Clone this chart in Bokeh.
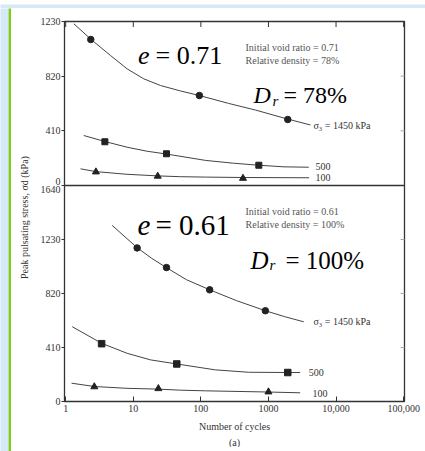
import math
from bokeh.plotting import figure
from bokeh.models import Range1d, FixedTicker, Label, Title
from bokeh.layouts import row, column
from bokeh.embed import file_html
from bokeh.resources import INLINE

# ---------------- data ----------------
x_ticks = [1, 10, 100, 1000, 10000, 100000]
x_tick_labels = ["1", "10", "100", "1000", "10,000", "100,000"]
top_y_ticks = [0, 410, 820, 1230]
top_y_tick_labels = ["0", "410", "820", "1230"]
bot_y_ticks = [0, 410, 820, 1230, 1640]
bot_y_tick_labels = ["0", "410", "820", "1230", "1640"]

# upper panel: e = 0.71, Dr = 78 %
top_circle_n = [2.35, 95, 1930]
top_circle_v = [1095, 675, 495]
top_square_n = [3.8, 31, 720]
top_square_v = [328, 238, 152]
top_tri_n = [2.8, 23, 420]
top_tri_v = [102, 70, 54]
top_curve1450_n = [1.32, 2.38, 4.6, 8.1, 14.3, 25.3, 50, 95, 256, 642, 1930, 4180]
top_curve1450_v = [1213, 1095, 975, 875, 800, 750, 709, 675, 616, 566, 498, 454]
top_curve500_n = [1.85, 3.8, 8.1, 16, 31, 118, 305, 720, 1700, 3950]
top_curve500_v = [375, 330, 287, 257, 236, 188, 167, 152, 140, 137]
top_curve100_n = [1.66, 2.8, 8.1, 23, 50, 118, 420, 4000]
top_curve100_v = [125, 104, 84, 72, 66, 63, 60, 58]

# lower panel: e = 0.61, Dr = 100 %
bot_circle_n = [11.4, 31, 135, 900]
bot_circle_v = [1166, 1017, 848, 689]
bot_square_n = [3.4, 44, 1930]
bot_square_v = [439, 285, 220]
bot_tri_n = [2.65, 23.5, 1000]
bot_tri_v = [112, 98, 73]
bot_curve1450_n = [4.87, 11.4, 18.6, 30.8, 61, 135, 336, 903, 1714, 3330]
bot_curve1450_v = [1337, 1168, 1088, 1017, 925, 848, 766, 689, 645, 605]
bot_curve500_n = [1.25, 3.4, 8.1, 18, 44, 164, 510, 1930, 2950]
bot_curve500_v = [568, 442, 366, 316, 285, 240, 222, 220, 220]
bot_curve100_n = [1.22, 2.65, 8.1, 23.5, 50, 118, 1000, 2950]
bot_curve100_v = [139, 114, 100, 94, 86, 81, 72, 66]

SERIF = "Liberation Serif"
INK = "#222222"
LINE = "#444444"
GREEN = "#7ccc22"
BLUE = "#d5e9f8"

X_START, X_END = 0.96, 1.03e5
x_range = Range1d(X_START, X_END)


def make_fig(height, y_end, mb_top, mb_bottom, x_loc):
    p = figure(width=392, height=height, x_axis_type="log", x_range=x_range,
               y_range=Range1d(0, y_end), x_axis_location=x_loc,
               output_backend="svg", toolbar_location=None,
               min_border_left=31, min_border_right=21,
               min_border_top=mb_top, min_border_bottom=mb_bottom)
    p.grid.visible = False
    p.outline_line_color = "#333333"
    p.outline_line_width = 1.3
    p.background_fill_color = "white"
    p.border_fill_alpha = 0
    return p


def style_y(ax, ticks, labels):
    ax.ticker = FixedTicker(ticks=ticks)
    ax.major_label_overrides = {t: l for t, l in zip(ticks, labels)}
    ax.axis_line_color = None
    ax.major_tick_in = 0
    ax.major_tick_out = 3
    ax.major_tick_line_color = "#333333"
    ax.minor_tick_line_color = None
    ax.major_label_standoff = 1
    ax.major_label_text_font = SERIF
    ax.major_label_text_font_size = "10px"
    ax.major_label_text_color = "#333333"


def edge_ticks(p, y_top, right_ticks):
    # short inward tick marks on the top edge (decades) and on the right edge
    p.scatter(x_ticks, [y_top] * len(x_ticks), marker="dash", angle=math.pi / 2,
              size=11, line_color="#333333", line_width=1)
    p.scatter([X_END] * len(right_ticks), right_ticks, marker="dash",
              size=8, line_color="#aaaaaa", line_width=1)


def lab(p, x, y, text, size, style="normal", color="black", baseline="alphabetic", align="left"):
    p.add_layout(Label(x=x, y=y, text=text, text_font=SERIF, text_font_size=f"{size}px",
                       text_font_style=style, text_color=color, text_baseline=baseline,
                       text_align=align))


def draw_series(p, cn, cv, sn, sv, marker, msize):
    p.line(cn, cv, line_color=LINE, line_width=1)
    p.scatter(sn, sv, marker=marker, size=msize, fill_color=INK, line_color=INK)


# ---------------- upper panel ----------------
PT_H = 175
pt = make_fig(PT_H, 1230, 10, 1, None)
pt.styles = {"z-index": "2"}
style_y(pt.yaxis[0], top_y_ticks[1:], top_y_tick_labels[1:])
edge_ticks(pt, top_y_ticks[-1], top_y_ticks[1:3])
draw_series(pt, top_curve1450_n, top_curve1450_v, top_circle_n, top_circle_v, "circle", 6.5)
draw_series(pt, top_curve500_n, top_curve500_v, top_square_n, top_square_v, "square", 6)
draw_series(pt, top_curve100_n, top_curve100_v, top_tri_n, top_tri_v, "triangle", 7)

lab(pt, 11.7, 975, "e", 26, "italic")
lab(pt, 21.3, 975, "= 0.71", 26)
lab(pt, 458, 1035, "Initial void ratio = 0.71", 10, color="#555555", baseline="middle")
lab(pt, 458, 937, "Relative density = 78%", 10, color="#555555", baseline="middle")
lab(pt, 600, 682, "D", 24, "italic")
lab(pt, 1146, 637, "r", 15, "italic")
lab(pt, 1667, 682, "= 78%", 24)
lab(pt, 4630, 450, "\u03c3\u2083 = 1450 kPa", 10, color="#333333", baseline="middle")
lab(pt, 4960, 142, "500", 10, color="#333333", baseline="middle")
lab(pt, 4960, 60, "100", 10, color="#333333", baseline="middle")

# ---------------- lower panel ----------------
OVERLAP = 14
PB_H = 13 + 217 + 45
pb = make_fig(PB_H, 1640, 13, 45, "below")
pb.margin = (-OVERLAP, 0, 0, 0)
ax = pb.xaxis[0]
ax.ticker = FixedTicker(ticks=x_ticks)
ax.major_label_overrides = {t: l for t, l in zip(x_ticks, x_tick_labels)}
ax.axis_line_color = None
ax.major_tick_in = 5
ax.major_tick_out = 0
ax.major_tick_line_color = "#333333"
ax.minor_tick_line_color = None
ax.major_label_text_font = SERIF
ax.major_label_text_font_size = "10px"
ax.major_label_text_color = "#333333"
ax.major_label_standoff = 3
ax.axis_label = "Number of cycles"
ax.axis_label_text_font = SERIF
ax.axis_label_text_font_size = "10px"
ax.axis_label_text_font_style = "normal"
ax.axis_label_text_color = "#333333"
ax.axis_label_standoff = 6
pb.add_layout(Title(text="(a)", align="center", text_font=SERIF, text_font_size="10px",
                    text_font_style="normal", text_color="#333333", standoff=0), "below")
style_y(pb.yaxis[0], bot_y_ticks, bot_y_tick_labels)
# shared border: the upper panel's "0" sits just above the lower panel's "1640"
pb.yaxis[0].major_label_overrides = {
    **pb.yaxis[0].major_label_overrides,
    bot_y_ticks[-1]: top_y_tick_labels[0] + "\n" + bot_y_tick_labels[-1],
}
pb.yaxis[0].major_label_text_line_height = 0.75
pb.scatter([X_END] * 3, bot_y_ticks[1:4], marker="dash", size=8,
           line_color="#aaaaaa", line_width=1)
draw_series(pb, bot_curve1450_n, bot_curve1450_v, bot_circle_n, bot_circle_v, "circle", 6.5)
draw_series(pb, bot_curve500_n, bot_curve500_v, bot_square_n, bot_square_v, "square", 6.5)
draw_series(pb, bot_curve100_n, bot_curve100_v, bot_tri_n, bot_tri_v, "triangle", 7)

lab(pb, 11.5, 1337, "e", 29, "italic")
lab(pb, 21.3, 1337, "= 0.61", 29)
lab(pb, 458, 1443, "Initial void ratio = 0.61", 10, color="#555555", baseline="middle")
lab(pb, 458, 1345, "Relative density = 100%", 10, color="#555555", baseline="middle")
lab(pb, 542, 1072, "D", 25, "italic")
lab(pb, 1035, 1034, "r", 15, "italic")
lab(pb, 1786, 1072, "= 100%", 25)
lab(pb, 4630, 605, "\u03c3\u2083 = 1450 kPa", 10, color="#333333", baseline="middle")
lab(pb, 3945, 219, "500", 10, color="#333333", baseline="middle")
lab(pb, 4470, 64, "100", 10, color="#333333", baseline="middle")

# ---------------- shared y-axis title ----------------
PL_H = PT_H + PB_H - OVERLAP
pl = figure(width=22, height=PL_H, x_range=Range1d(0, 22), y_range=Range1d(PL_H, 0),
            x_axis_location=None, y_axis_location=None, output_backend="svg",
            toolbar_location=None, min_border=0)
pl.min_border_left = pl.min_border_right = pl.min_border_top = pl.min_border_bottom = 0
pl.grid.visible = False
pl.outline_line_color = None
pl.border_fill_alpha = 0
pl.background_fill_alpha = 0
pl.add_layout(Label(x=13, y=206, text="Peak pulsating stress, \u03c3d (kPa)", angle=math.pi / 2,
                    text_font=SERIF, text_font_size="10px", text_color="#333333",
                    text_align="center", text_baseline="middle"))


def strip(w, h, color):
    b = figure(width=w, height=h, x_axis_location=None, y_axis_location=None,
               output_backend="svg", toolbar_location=None, min_border=0)
    b.min_border_left = b.min_border_right = b.min_border_top = b.min_border_bottom = 0
    b.grid.visible = False
    b.outline_line_color = None
    b.background_fill_color = color
    b.border_fill_color = color
    return b


layout = column(
    strip(425, 8, BLUE),
    row(strip(8, 443, BLUE), strip(3, 443, GREEN),
        column(strip(414, 3, GREEN), row(pl, column(pt, pb)))),
)

open("out.html", "w").write(file_html(layout, INLINE))
